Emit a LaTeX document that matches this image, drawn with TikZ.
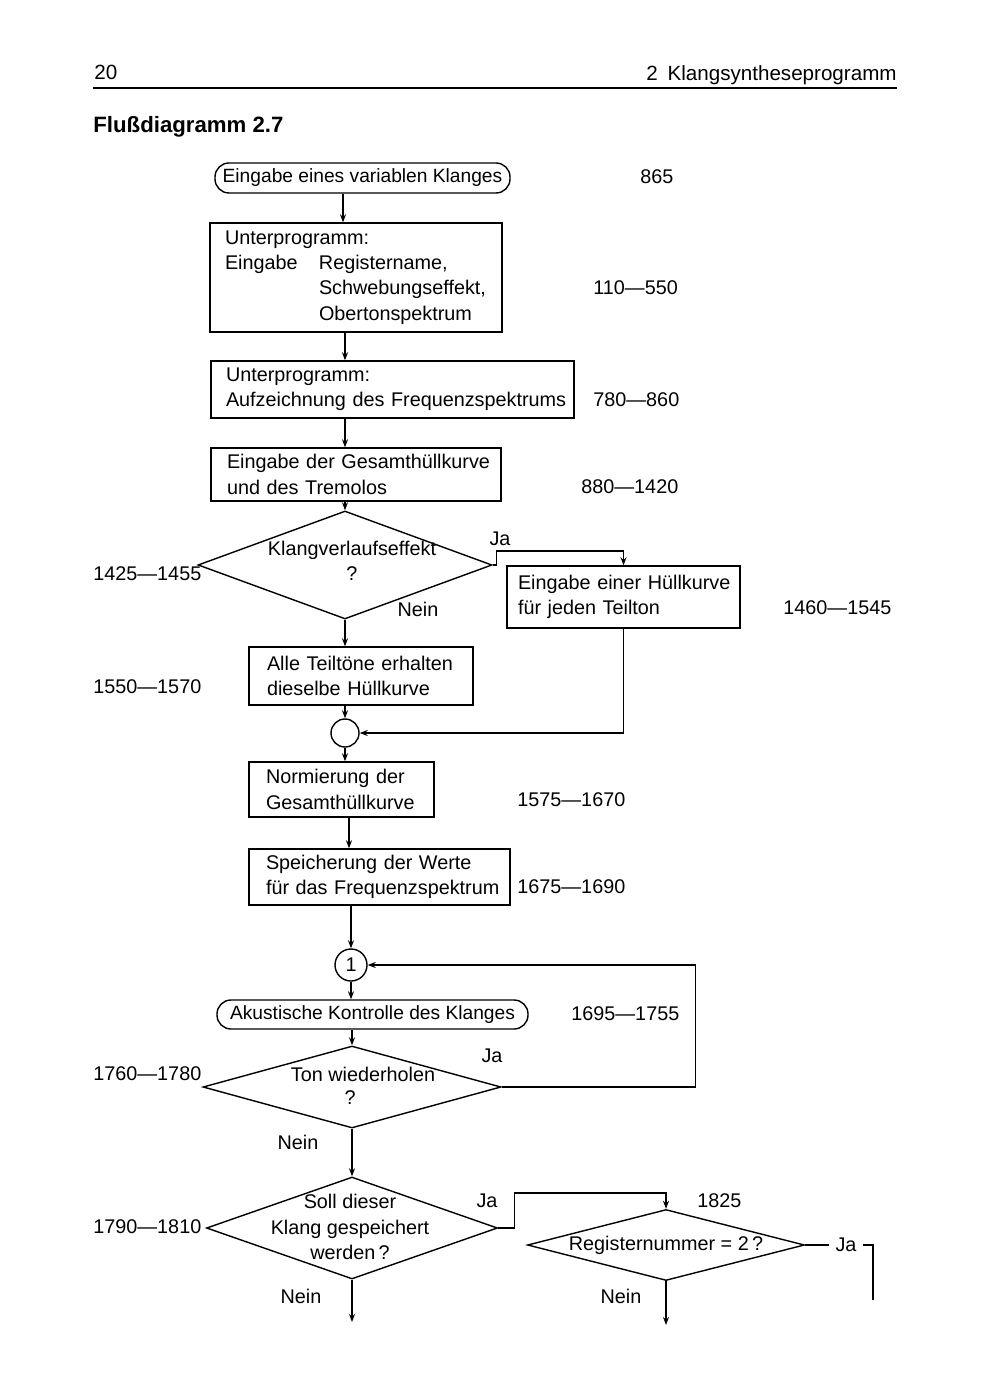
\documentclass[tikz,border=0pt]{standalone}
\usepackage{fontspec}
\setmainfont{Liberation Sans}
\usetikzlibrary{shapes.geometric,arrows.meta,calc}
\hbadness=10000
\hfuzz=100pt
\begin{document}
\begin{tikzpicture}[x=0.5pt,y=-0.5pt,
  every node/.style={font=\fontsize{9.9}{12.65}\selectfont, inner sep=0pt},
  pbox/.style={draw, line width=0.7pt, rectangle, align=left, inner ysep=0pt},
  term/.style={draw, line width=0.7pt, rounded corners=7pt, align=center, font=\fontsize{9.6}{12}\selectfont},
  dia/.style={draw, line width=0.7pt, diamond, inner sep=0pt},
  conn/.style={draw, line width=0.7pt, circle, inner sep=0pt},
  arr/.style={line width=0.7pt, -{Stealth[length=4pt,width=3pt]}},
  ln/.style={line width=0.7pt},
  num/.style={anchor=west},
  lab/.style={anchor=center},
]
\useasboundingbox (0,0) rectangle (1000,1400);

% header
\node[anchor=base west, font=\fontsize{10.3}{12}\selectfont] (pg) at (94,80) {20};
\node[anchor=base east, font=\fontsize{10.3}{12}\selectfont] (hd) at (897,81) {2\hspace{2pt} Klangsyntheseprogramm};
\coordinate (r1) at (93,88);
\coordinate (r2) at (897,88);
\draw[line width=0.8pt] (r1) -- (r2);
\node[anchor=base west, font=\fontsize{11.1}{13}\selectfont\bfseries] (ttl) at (93,133) {Flußdiagramm 2.7};

% axis helpers
\coordinate (xa) at (343,0);
\coordinate (xb) at (345,0);
\coordinate (xc) at (349,0);
\coordinate (xd) at (351,0);

% nodes
\node[term, minimum width=147.5pt, minimum height=15pt] (t1) at (362.5,178) {Eingabe eines variablen Klanges};
\node[num] (n1) at (640,177) {865};

\node[pbox, text width=131pt, inner xsep=7.5pt, minimum height=54.5pt] (b2) at (356,277.5)
  {\mbox{Unterprogramm:}\\
   \mbox{\makebox[47pt][l]{Eingabe}Registername,}\\
   \mbox{\hspace*{47pt}Schwebungseffekt,}\\
   \mbox{\hspace*{47pt}Obertonspektrum}};
\node[num] (n2) at (593,288) {110—550};

\node[pbox, text width=166.5pt, inner xsep=7.5pt, minimum height=28.5pt] (b3) at (392.5,389.5)
  {\mbox{Unterprogramm:}\\\mbox{Aufzeichnung des Frequenzspektrums}};
\node[num] (n3) at (593,400) {780—860};

\node[pbox, text width=129pt, inner xsep=8pt, minimum height=26.5pt] (b4) at (356,474.5)
  {\mbox{Eingabe der Gesamthüllkurve}\\\mbox{und des Tremolos}};
\node[num] (n4) at (581,487) {880—1420};

\node[dia, minimum width=147pt, minimum height=54pt] (d1) at (345,565) {};
\node[align=center] (d1t) at (352,561) {Klangverlaufseffekt\\?};
\node[num] (n5) at (93,574) {1425—1455};
\node[lab] (ja1) at (500,539) {Ja};
\node[lab] (ne1) at (418,609) {Nein};

\node[pbox, text width=105.5pt, inner xsep=5.5pt, minimum height=31pt] (b5) at (623.5,597)
  {\mbox{Eingabe einer Hüllkurve}\\\mbox{für jeden Teilton}};
\node[num] (n6) at (783,608) {1460—1545};

\node[pbox, text width=94pt, inner xsep=9pt, minimum height=29pt] (b6) at (361,676)
  {\mbox{Alle Teiltöne erhalten}\\\mbox{dieselbe Hüllkurve}};
\node[num] (n7) at (93,687) {1550—1570};

\node[conn, minimum size=14pt] (c0) at (345,733) {};

\node[pbox, text width=75.5pt, inner xsep=8.5pt, minimum height=27.5pt] (b7) at (341.5,789.5)
  {\mbox{Normierung der}\\\mbox{Gesamthüllkurve}};
\node[num] (n8) at (517,800) {1575—1670};

\node[pbox, text width=113.5pt, inner xsep=8.5pt, minimum height=28pt] (b8) at (379.5,877)
  {\mbox{Speicherung der Werte}\\\mbox{für das Frequenzspektrum}};
\node[num] (n9) at (517,887) {1675—1690};

\node[conn, minimum size=16pt] (c1) at (351,965) {1};

\node[term, minimum width=155.5pt, minimum height=14.5pt] (t2) at (372.5,1014.5) {Akustische Kontrolle des Klanges};
\node[num] (n10) at (571,1014) {1695—1755};

\node[dia, minimum width=149pt, minimum height=41pt] (d2) at (352,1087) {};
\node[lab] (d2t) at (363,1074) {Ton wiederholen};
\node[lab] (d2q) at (350,1098) {?};
\node[num] (n11) at (93,1074) {1760—1780};
\node[lab] (ja2) at (492,1056) {Ja};
\node[lab] (ne2) at (298,1142) {Nein};

\node[dia, minimum width=145.5pt, minimum height=51pt] (d3) at (352,1228) {};
\node[align=center] (d3t) at (350,1227) {Soll dieser\\Klang gespeichert\\werden\,?};
\node[num] (n12) at (93,1227) {1790—1810};
\node[lab] (ja3) at (487,1201) {Ja};
\node[lab] (ne3) at (301,1296) {Nein};

\node[dia, minimum width=138.5pt, minimum height=35.5pt] (d4) at (666,1245) {};
\node[lab] (d4t) at (666,1245) {Registernummer = 2\,?};
\node[num] (n13) at (697,1201) {1825};
\node[lab, inner xsep=3pt] (ja4) at (846,1245) {Ja};
\node[lab] (ne4) at (621,1296) {Nein};

\coordinate (e3) at (352,1322);
\coordinate (e4) at (666,1325);
\coordinate (e5) at (873,1300);

% connectors
\draw[arr] (t1.south -| xa) -- (b2.north -| xa);
\draw[arr] (b2.south -| xb) -- (b3.north -| xb);
\draw[arr] (b3.south -| xb) -- (b4.north -| xb);
\draw[arr] (b4.south -| xb) -- (d1.north);
\draw[arr] (d1.east) -- ++(4,0) -- ++(0,-14) -| (b5.north);
\draw[arr] (d1.south) -- (b6.north -| d1.south);
\draw[arr] (b6.south -| xb) -- (c0.north);
\draw[arr] (b5.south) |- (c0.east);
\draw[arr] (c0.south) -- (b7.north -| c0.south);
\draw[arr] (b7.south -| xc) -- (b8.north -| xc);
\draw[arr] (b8.south -| xd) -- (c1.north);
\draw[arr] (c1.south) -- (t2.north -| c1.south);
\draw[arr] (t2.south -| d2.north) -- (d2.north);
\draw[arr] (d2.east) -- ++(194,0) |- (c1.east);
\draw[arr] (d2.south) -- (d3.north);
\draw[arr] (d3.east) -- ++(16,0) -- ++(0,-35) -| (d4.north);
\draw[arr] (d3.south) -- (e3);
\draw[arr] (d4.south) -- (e4);
\draw[ln] (d4.east) -- (ja4.west);
\draw[ln] (ja4.east) -| (e5);
\end{tikzpicture}
\end{document}
